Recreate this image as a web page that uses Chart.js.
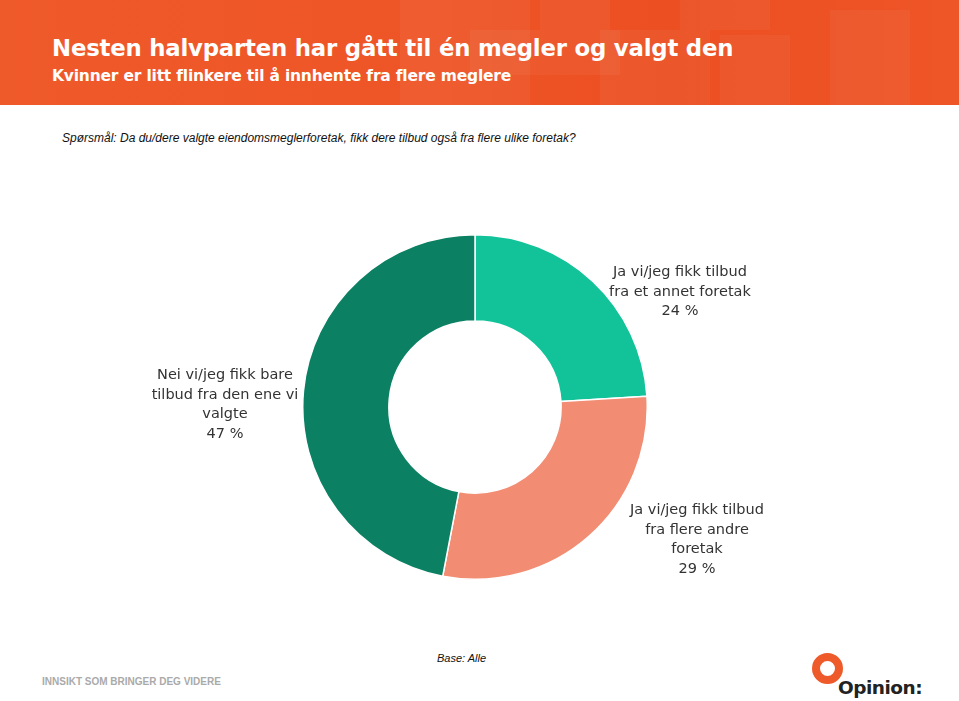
<!DOCTYPE html>
<html>
<head>
<meta charset="utf-8">
<script src="https://cdn.jsdelivr.net/npm/chart.js@4.4.0/dist/chart.umd.min.js"></script>
<style>
  body { margin: 0; width: 959px; height: 701px; background: #fff; position: relative; overflow: hidden; font-family: "Liberation Sans", Arial, sans-serif; }
  #header {
    position: absolute; left: 0; top: 0; width: 959px; height: 105px;
    background: linear-gradient(90deg, #ef5a2b 0%, #ee5526 45%, #ec4f22 70%, #ee5527 100%);
    overflow: hidden;
  }
  .sq { position: absolute; background: rgba(255,255,255,0.045); }
  #title { position: absolute; left: 52px; top: 35px; color: #fff; font-family: "DejaVu Sans", sans-serif; font-weight: bold; font-size: 22.8px; letter-spacing: -0.2px; }
  #subtitle { position: absolute; left: 52px; top: 67px; color: #fff; font-family: "DejaVu Sans", sans-serif; font-weight: bold; font-size: 15.5px; letter-spacing: -0.2px; }
  #question { position: absolute; left: 62px; top: 131px; font-style: italic; font-size: 12px; color: #111; }
  #chartBox { position: absolute; left: 300px; top: 232px; width: 350px; height: 350px; }
  .lbl { position: absolute; text-align: center; font-family: "DejaVu Sans", sans-serif; font-size: 14.5px; line-height: 19.5px; color: #333; }
  #base { position: absolute; left: 437px; top: 652px; font-style: italic; font-size: 11px; color: #111; }
  #slogan { position: absolute; left: 42px; top: 676px; font-size: 10px; color: #aaa; font-weight: bold; }
  #ring { position: absolute; left: 812px; top: 653px; width: 15px; height: 15px; border: 8px solid #ee5a2a; border-radius: 50%; }
  #logo { position: absolute; left: 838px; top: 677px; font-size: 18.5px; font-weight: bold; color: #222; font-family: "DejaVu Sans", sans-serif; letter-spacing: -0.5px; }
</style>
</head>
<body>
<div id="header">
  <div class="sq" style="left:400px;top:0;width:130px;height:105px"></div>
  <div class="sq" style="left:470px;top:30px;width:150px;height:45px"></div>
  <div class="sq" style="left:540px;top:0;width:70px;height:30px"></div>
  <div class="sq" style="left:600px;top:30px;width:110px;height:75px"></div>
  <div class="sq" style="left:680px;top:0;width:90px;height:30px"></div>
  <div class="sq" style="left:720px;top:35px;width:70px;height:70px"></div>
  <div class="sq" style="left:830px;top:10px;width:80px;height:95px"></div>
  <div id="title">Nesten halvparten har gått til én megler og valgt den</div>
  <div id="subtitle">Kvinner er litt flinkere til å innhente fra flere meglere</div>
</div>
<div id="question">Spørsmål: Da du/dere valgte eiendomsmeglerforetak, fikk dere tilbud også fra flere ulike foretak?</div>
<div id="chartBox"><canvas id="donut"></canvas></div>
<div id="base">Base: Alle</div>
<div id="slogan">INNSIKT SOM BRINGER DEG VIDERE</div>
<div id="ring"></div>
<div id="logo">Opinion:</div>
<script>
// answer categories and share of respondents (%)
var categories = [
  ['Ja vi/jeg fikk tilbud', 'fra et annet foretak'],
  ['Ja vi/jeg fikk tilbud', 'fra flere andre', 'foretak'],
  ['Nei vi/jeg fikk bare', 'tilbud fra den ene vi', 'valgte']
];
var shares = [24, 29, 47];
var colors = ['#12c39a', '#f28c72', '#0b8062'];

// where each label block sits on the page
var labelPos = [
  { left: 590, top: 262, width: 180 },
  { left: 607, top: 500, width: 180 },
  { left: 130, top: 365, width: 190 }
];

var ctx = document.getElementById('donut').getContext('2d');
var donut = new Chart(ctx, {
  type: 'doughnut',
  data: {
    labels: categories.map(function (c) { return c.join(' '); }),
    datasets: [{
      data: shares,
      backgroundColor: colors,
      borderColor: '#ffffff',
      borderWidth: 1.5
    }]
  },
  options: {
    responsive: true,
    maintainAspectRatio: false,
    animation: false,
    cutout: '50%',
    layout: { padding: 2 },
    plugins: {
      legend: { display: false },
      tooltip: { enabled: false }
    }
  }
});

categories.forEach(function (lines, i) {
  var div = document.createElement('div');
  div.className = 'lbl';
  div.style.left = labelPos[i].left + 'px';
  div.style.top = labelPos[i].top + 'px';
  div.style.width = labelPos[i].width + 'px';
  div.innerHTML = lines.concat([shares[i] + ' %']).join('<br>');
  document.body.appendChild(div);
});
</script>
</body>
</html>
